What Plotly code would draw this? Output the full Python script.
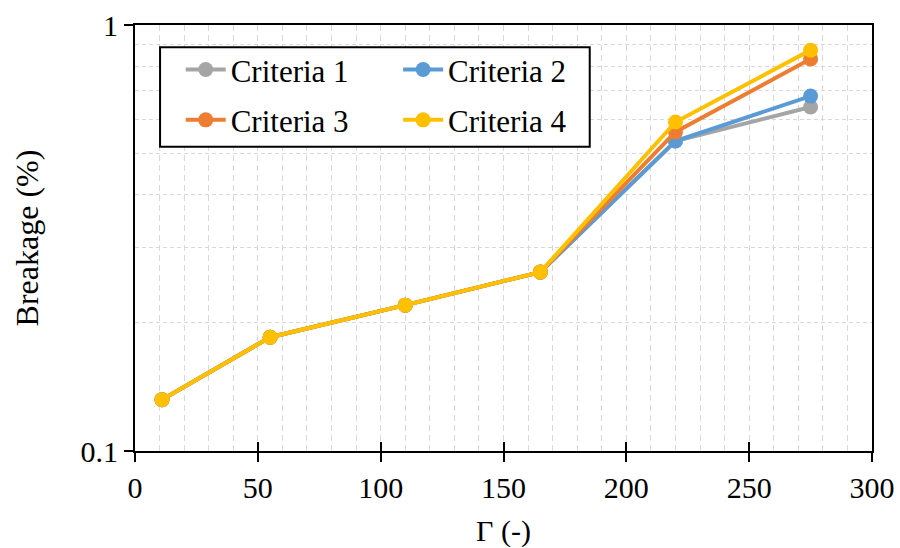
import plotly.graph_objects as go

# Shear rate parameter Γ and particle breakage for four criteria
gamma = [11, 55, 110, 165, 220, 275]
criteria_1 = [0.132, 0.185, 0.220, 0.263, 0.534, 0.642]
criteria_2 = [0.132, 0.185, 0.220, 0.263, 0.534, 0.681]
criteria_3 = [0.132, 0.185, 0.220, 0.263, 0.561, 0.832]
criteria_4 = [0.132, 0.185, 0.220, 0.263, 0.592, 0.873]

names = ["Criteria 1", "Criteria 2", "Criteria 3", "Criteria 4"]
series = [criteria_1, criteria_2, criteria_3, criteria_4]
colors = ["#A5A5A5", "#5B9BD5", "#ED7D31", "#FFC000"]
legend_ids = ["legend", "legend2", "legend", "legend2"]

x_ticks = [0, 50, 100, 150, 200, 250, 300]
y_ticks = [0.1, 1]
y_tick_text = ["0.1", "1"]
y_minor = [0.2, 0.3, 0.4, 0.5, 0.6, 0.7, 0.8, 0.9]

FONT = "Times New Roman"

fig = go.Figure()
for name, vals, col, lg in zip(names, series, colors, legend_ids):
    fig.add_trace(go.Scatter(
        x=gamma, y=vals, name=name, mode="lines+markers",
        line=dict(color=col, width=4),
        marker=dict(color=col, size=15),
        legend=lg, legendgroup=name,
    ))

# empty trace carrying the inner half of the crossing x ticks
fig.add_trace(go.Scatter(x=[], y=[], xaxis="x2", showlegend=False, hoverinfo="skip"))

grid_col = "#D9D9D9"
legend_common = dict(
    xanchor="left", yanchor="top",
    bgcolor="rgba(0,0,0,0)", borderwidth=0,
    font=dict(family=FONT, size=31, color="black"),
    traceorder="grouped", tracegroupgap=7, itemwidth=40,
)
fig.update_layout(
    width=900, height=548,
    margin=dict(l=135, r=28, t=25, b=97),
    paper_bgcolor="white", plot_bgcolor="white",
    font=dict(family=FONT, size=30, color="black"),
    xaxis=dict(
        range=[0, 300], tickvals=x_ticks, ticks="outside", ticklen=9,
        tickwidth=2, tickcolor="black", automargin=False,
        tickfont=dict(family=FONT, size=30),
        showline=True, linecolor="black", linewidth=2, mirror=True,
        showgrid=True, gridcolor=grid_col, griddash="6px,4px", gridwidth=1,
        minor=dict(dtick=10, showgrid=True, gridcolor=grid_col,
                   griddash="6px,4px", gridwidth=1),
        zeroline=False,
        title=dict(text="Γ (-)", standoff=17, font=dict(family=FONT, size=30)),
    ),
    xaxis2=dict(
        overlaying="x", matches="x", anchor="y", side="bottom",
        range=[0, 300], tickvals=x_ticks, ticks="inside", ticklen=9,
        tickwidth=2, tickcolor="black", showticklabels=False,
        showgrid=False, showline=False, zeroline=False, automargin=False,
    ),
    yaxis=dict(
        type="log", range=[-1, 0], tickvals=y_ticks, ticktext=y_tick_text,
        ticks="outside", ticklen=9, tickwidth=2, tickcolor="black",
        automargin=False, tickfont=dict(family=FONT, size=30),
        showline=True, linecolor="black", linewidth=2, mirror=True,
        showgrid=False,
        minor=dict(tickvals=y_minor, showgrid=True, gridcolor=grid_col,
                   griddash="4px,3px", gridwidth=1, ticks=""),
        zeroline=False,
        title=dict(text="Breakage (%)", standoff=32, font=dict(family=FONT, size=32)),
    ),
    legend=dict(x=0.062, y=0.958, **legend_common),
    legend2=dict(x=0.357, y=0.958, **legend_common),
    shapes=[dict(
        type="rect", xref="paper", yref="paper",
        x0=0.034, x1=0.617, y0=0.714, y1=0.948,
        line=dict(color="black", width=2), fillcolor="white", layer="above",
    )],
    showlegend=True,
)

fig.write_html("out.html")
